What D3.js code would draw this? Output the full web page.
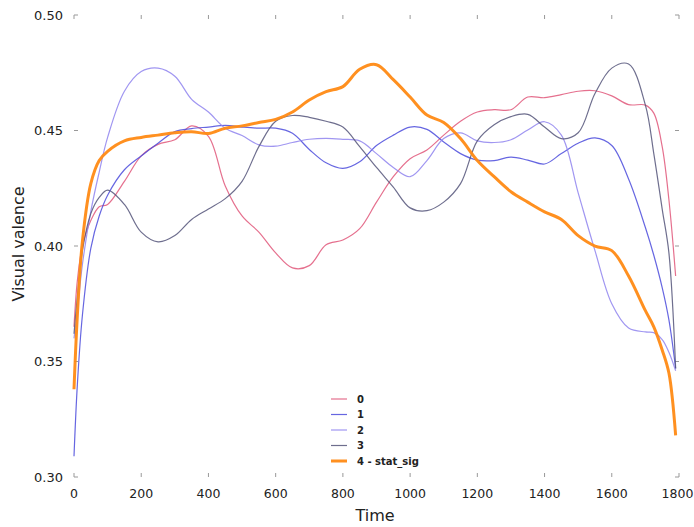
<!DOCTYPE html>
<html>
<head>
<meta charset="utf-8">
<script src="https://cdn.jsdelivr.net/npm/d3@7"></script>
<style>
  html, body { margin: 0; padding: 0; background: #fff; }
  svg { display: block; font-family: "DejaVu Sans", sans-serif; }
</style>
</head>
<body>
<svg id="chart" width="694" height="527"></svg>
<script>
// Sample times shared by every series
const times = [0, 10, 25, 50, 75, 100, 150, 200, 250, 300, 350, 400, 450, 500, 550, 600,
  650, 700, 750, 800, 850, 900, 950, 1000, 1050, 1100, 1150, 1200, 1250, 1300, 1350,
  1400, 1450, 1500, 1550, 1600, 1650, 1700, 1725, 1750, 1770, 1790];

// Visual valence per cluster
const cluster0 = [0.365, 0.385, 0.400, 0.411, 0.417, 0.418, 0.428, 0.439, 0.444, 0.446, 0.452, 0.4475,
  0.426, 0.413, 0.406, 0.397, 0.3905, 0.3915, 0.4005, 0.4026, 0.4075, 0.419, 0.430, 0.4378, 0.4416,
  0.448, 0.454, 0.458, 0.459, 0.459, 0.4645, 0.4642, 0.4655, 0.467, 0.4672, 0.465, 0.4612, 0.461,
  0.4575, 0.443, 0.420, 0.387];
const cluster1 = [0.309, 0.340, 0.370, 0.399, 0.413, 0.422, 0.433, 0.439, 0.4445, 0.4495, 0.4508, 0.4515,
  0.4522, 0.4515, 0.451, 0.451, 0.4488, 0.4418, 0.436, 0.4336, 0.4365, 0.4435, 0.448, 0.4515, 0.4505,
  0.445, 0.440, 0.4372, 0.437, 0.4385, 0.4372, 0.4355, 0.440, 0.4445, 0.4468, 0.4435, 0.429, 0.408,
  0.396, 0.382, 0.368, 0.347];
const cluster2 = [0.360, 0.372, 0.392, 0.415, 0.432, 0.447, 0.467, 0.4755, 0.477, 0.4735, 0.4635, 0.458,
  0.451, 0.4478, 0.4438, 0.4432, 0.4448, 0.4462, 0.4466, 0.4462, 0.4455, 0.440, 0.434, 0.430, 0.437,
  0.4465, 0.449, 0.4455, 0.4448, 0.446, 0.4502, 0.4538, 0.448, 0.423, 0.398, 0.375, 0.3645, 0.3628,
  0.3625, 0.3595, 0.354, 0.346];
const cluster3 = [0.362, 0.378, 0.398, 0.414, 0.421, 0.4242, 0.418, 0.406, 0.4018, 0.4045, 0.4115, 0.416,
  0.4205, 0.428, 0.443, 0.454, 0.4565, 0.4557, 0.454, 0.4515, 0.443, 0.434, 0.4255, 0.4165, 0.4153,
  0.419, 0.427, 0.4455, 0.4525, 0.456, 0.457, 0.4515, 0.4465, 0.449, 0.466, 0.477, 0.4788, 0.461,
  0.440, 0.416, 0.397, 0.347];
const cluster4 = [0.338, 0.370, 0.402, 0.427, 0.437, 0.441, 0.4455, 0.447, 0.448, 0.449, 0.4495, 0.4487,
  0.451, 0.452, 0.4535, 0.4548, 0.458, 0.4632, 0.4668, 0.469, 0.4765, 0.4785, 0.472, 0.4645, 0.4567,
  0.4535, 0.4465, 0.437, 0.430, 0.4235, 0.419, 0.4148, 0.4115, 0.4045, 0.400, 0.398, 0.387, 0.372,
  0.365, 0.355, 0.345, 0.318];

const seriesNames = ["0", "1", "2", "3", "4 - stat_sig"];
const seriesValues = [cluster0, cluster1, cluster2, cluster3, cluster4];
const seriesColors = ["#e0577a", "#4b4bdc", "#8f84ee", "#55557a", "#ff8a14"];
const seriesWidths = [1.2, 1.2, 1.2, 1.2, 3];

const xTicks = [0, 200, 400, 600, 800, 1000, 1200, 1400, 1600, 1800];
const yTicks = [0.30, 0.35, 0.40, 0.45, 0.50];

const svg = d3.select("#chart");
const x = d3.scaleLinear().domain([0, 1800]).range([74, 679]);
const y = d3.scaleLinear().domain([0.30, 0.50]).range([477, 15]);

// Inward tick marks on all four sides, no spines
const tickColor = "#999";
const tickLen = 4;
const ticks = svg.append("g").attr("stroke", tickColor).attr("stroke-width", 1);
xTicks.forEach(t => {
  ticks.append("line").attr("x1", x(t)).attr("x2", x(t)).attr("y1", y(0.30)).attr("y2", y(0.30) - tickLen);
  ticks.append("line").attr("x1", x(t)).attr("x2", x(t)).attr("y1", y(0.50)).attr("y2", y(0.50) + tickLen);
});
yTicks.forEach(t => {
  ticks.append("line").attr("x1", x(0)).attr("x2", x(0) + tickLen).attr("y1", y(t)).attr("y2", y(t));
  ticks.append("line").attr("x1", x(1800)).attr("x2", x(1800) - tickLen).attr("y1", y(t)).attr("y2", y(t));
});

// Tick labels
svg.append("g").selectAll("text").data(xTicks).join("text")
  .attr("x", d => d === 1800 ? x(d) - 1.5 : x(d)).attr("y", 498)
  .attr("text-anchor", "middle").attr("font-size", 12.5).attr("fill", "#222")
  .text(d => d);
svg.append("g").selectAll("text").data(yTicks).join("text")
  .attr("x", 63).attr("y", d => y(d)).attr("dy", "0.35em")
  .attr("text-anchor", "end").attr("font-size", 13).attr("fill", "#222")
  .text(d => d.toFixed(2));

// Axis titles
svg.append("text").attr("x", 375).attr("y", 521).attr("text-anchor", "middle")
  .attr("font-size", 16).attr("fill", "#222").text("Time");
svg.append("text").attr("transform", "translate(24,244) rotate(-90)").attr("text-anchor", "middle")
  .attr("font-size", 16).attr("fill", "#222").text("Visual valence");

// Lines
const line = d3.line()
  .x((d, i) => x(times[i]))
  .y(d => y(d))
  .curve(d3.curveCatmullRom.alpha(0.5));

svg.append("g").selectAll("path").data(seriesValues).join("path")
  .attr("d", d => line(d))
  .attr("fill", "none")
  .attr("stroke", (d, i) => seriesColors[i])
  .attr("stroke-width", (d, i) => seriesWidths[i])
  .attr("stroke-opacity", (d, i) => i === 4 ? 0.95 : 0.85)
  .attr("stroke-linejoin", "round");

// Legend
const legend = svg.append("g");
const legendY = [399, 414.5, 430, 445.5, 461];
seriesNames.forEach((name, i) => {
  legend.append("line")
    .attr("x1", 331).attr("x2", 347).attr("y1", legendY[i]).attr("y2", legendY[i])
    .attr("stroke", seriesColors[i]).attr("stroke-width", seriesWidths[i])
    .attr("stroke-opacity", i === 4 ? 0.95 : 0.85);
  legend.append("text")
    .attr("x", 357).attr("y", legendY[i]).attr("dy", "0.35em")
    .attr("font-size", 10).attr("font-weight", "bold").attr("fill", "#222")
    .text(name);
});
</script>
</body>
</html>
